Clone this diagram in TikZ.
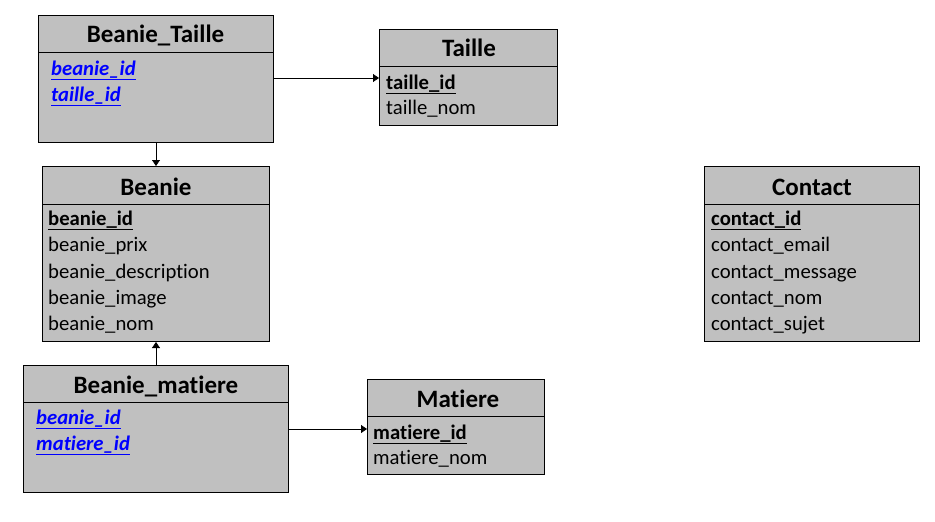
\documentclass[tikz,border=0pt]{standalone}
\usepackage{fontspec}
\setmainfont{Carlito}[RawFeature=-liga]
\usetikzlibrary{arrows.meta}
\definecolor{boxgray}{RGB}{192,192,192}
\definecolor{fkblue}{RGB}{0,0,255}
\begin{document}
\begin{tikzpicture}[x=1pt,y=-1pt,
  ent/.style={draw=black, fill=boxgray, line width=1pt, inner sep=0pt, anchor=north west},
  ttl/.style={font=\fontsize{25}{27}\selectfont\bfseries, inner sep=0pt},
  fld/.style={font=\fontsize{20.7}{22}\selectfont, inner sep=0pt, anchor=base west},
  conn/.style={line width=0.8pt, -{Triangle[length=6pt,width=8pt]}},
  sep/.style={line width=0.8pt}]
\useasboundingbox (0,0) rectangle (935,522);

% Beanie_Taille
\node[ent, minimum width=235pt, minimum height=127pt] (bt) at (38,15) {};
\draw[sep] (bt.west |- 0,52) -- (bt.east |- 0,52);
\node[ttl] (btT) at (155.5,35) {Beanie\_Taille};
\node[fld] (bt1) at (51,75) {\color{fkblue}\bfseries\itshape\underline{beanie\_id}};
\node[fld] (bt2) at (51,101) {\color{fkblue}\bfseries\itshape\underline{taille\_id}};

% Taille
\node[ent, minimum width=178pt, minimum height=96pt] (ta) at (379,29) {};
\draw[sep] (ta.west |- 0,66) -- (ta.east |- 0,66);
\node[ttl] (taT) at (469,48) {Taille};
\node[fld] (ta1) at (386,89) {\bfseries\underline{taille\_id}};
\node[fld] (ta2) at (386,114) {taille\_nom};

% Beanie
\node[ent, minimum width=227pt, minimum height=175pt] (be) at (42,166) {};
\draw[sep] (be.west |- 0,204) -- (be.east |- 0,204);
\node[ttl] (beT) at (156,187) {Beanie};
\node[fld] (be1) at (48,225) {\bfseries\underline{beanie\_id}};
\node[fld] (be2) at (48,251) {beanie\_prix};
\node[fld] (be3) at (48,278) {beanie\_description};
\node[fld] (be4) at (48,304) {beanie\_image};
\node[fld] (be5) at (48,330) {beanie\_nom};

% Contact
\node[ent, minimum width=215pt, minimum height=175pt] (co) at (704,166) {};
\draw[sep] (co.west |- 0,204) -- (co.east |- 0,204);
\node[ttl] (coT) at (812,187) {Contact};
\node[fld] (co1) at (711,225) {\bfseries\underline{contact\_id}};
\node[fld] (co2) at (711,251) {contact\_email};
\node[fld] (co3) at (711,278) {contact\_message};
\node[fld] (co4) at (711,304) {contact\_nom};
\node[fld] (co5) at (711,330) {contact\_sujet};

% Beanie_matiere
\node[ent, minimum width=265pt, minimum height=127pt] (bm) at (23,365) {};
\draw[sep] (bm.west |- 0,402) -- (bm.east |- 0,402);
\node[ttl] (bmT) at (156,386) {Beanie\_matiere};
\node[fld] (bm1) at (36,424) {\color{fkblue}\bfseries\itshape\underline{beanie\_id}};
\node[fld] (bm2) at (36,450) {\color{fkblue}\bfseries\itshape\underline{matiere\_id}};

% Matiere
\node[ent, minimum width=177pt, minimum height=95pt] (ma) at (367,379) {};
\draw[sep] (ma.west |- 0,416) -- (ma.east |- 0,416);
\node[ttl] (maT) at (458,399) {Matiere};
\node[fld] (ma1) at (373,439) {\bfseries\underline{matiere\_id}};
\node[fld] (ma2) at (373,464) {matiere\_nom};

% connectors
\draw[conn] (bt.east |- 0,78) -- (ta.west |- 0,78);
\draw[conn] (bt.south) -- (be.north);
\draw[conn] (bm.north) -- (be.south);
\draw[conn] (bm.east |- 0,429) -- (ma.west |- 0,429);
\end{tikzpicture}
\end{document}
